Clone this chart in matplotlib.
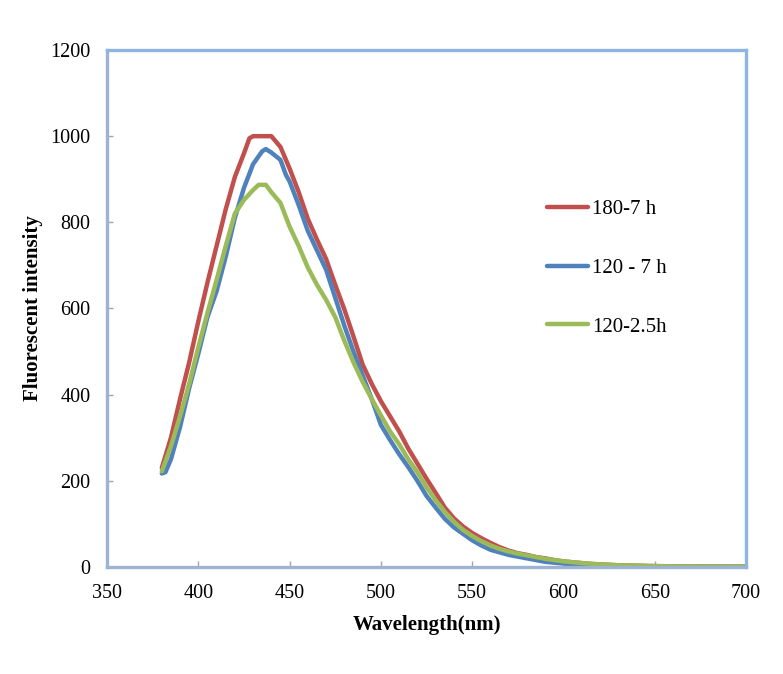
import matplotlib
matplotlib.use('Agg')
import matplotlib.pyplot as plt

# spectra
WL_RED = [380, 385, 390, 395, 400, 405, 410, 415, 420, 425, 428, 430, 435, 440, 445,
          450, 455, 460, 465, 470, 475, 480, 485, 490, 495, 500, 505, 510, 515, 520,
          525, 530, 535, 540, 545, 550, 555, 560, 565, 570, 575, 580, 585, 590, 595,
          600, 605, 610, 615, 620, 630, 640, 650, 660, 670, 680, 690, 700]
INT_RED = [230, 300, 390, 475, 570, 660, 745, 830, 905, 960, 995, 1000, 1000, 1000, 975,
           925, 870, 808, 760, 715, 655, 598, 535, 470, 425, 385, 350, 315, 275, 240,
           205, 172, 138, 113, 94, 79, 67, 56, 46, 38, 32, 28, 23, 20, 16,
           13, 11, 9, 7, 6, 4, 3, 2, 1.5, 1, 1, 0.5, 0.5]

WL_BLUE = [380, 382, 385, 390, 395, 400, 405, 410, 415, 420, 425, 430, 435, 437, 440,
           445, 448, 450, 455, 460, 465, 470, 475, 480, 485, 490, 495, 500, 505, 510,
           515, 520, 525, 530, 535, 540, 545, 550, 555, 560, 565, 570, 575, 580, 585,
           590, 595, 600, 605, 610, 620, 630, 640, 650, 670, 700]
INT_BLUE = [217, 220, 250, 325, 415, 495, 580, 640, 720, 810, 880, 935, 965, 970, 962,
            945, 910, 895, 840, 780, 735, 690, 625, 560, 500, 445, 390, 330, 295, 262,
            232, 200, 165, 138, 112, 92, 77, 62, 50, 40, 34, 28, 24, 20, 16,
            12, 10, 8, 6, 5, 3, 2, 1.5, 1, 0.5, 0.3]

WL_GREEN = [380, 385, 390, 395, 400, 405, 410, 415, 420, 425, 430, 433, 437, 440, 445,
            450, 455, 460, 465, 470, 475, 480, 485, 490, 495, 500, 505, 510, 515, 520,
            525, 530, 535, 540, 545, 550, 555, 560, 565, 570, 575, 580, 585, 590, 595,
            600, 605, 610, 620, 630, 640, 650, 660, 680, 700]
INT_GREEN = [222, 280, 350, 425, 510, 590, 666, 745, 820, 852, 875, 887, 887, 870, 845,
             790, 745, 695, 655, 620, 580, 525, 475, 430, 390, 352, 315, 285, 250, 220,
             185, 155, 128, 105, 86, 72, 60, 50, 42, 36, 31, 27, 23, 19, 16,
             13, 11, 9, 6, 4, 3, 2, 1.5, 1, 0.5]

LABELS = ['180-7 h', '120 - 7 h', '120-2.5h']
COLORS = ['#c0504d', '#4f81bd', '#9bbb59']

plt.rcParams['font.family'] = ['Liberation Serif', 'DejaVu Serif']

fig = plt.figure(figsize=(7.83, 6.74), dpi=100)
ax = fig.add_axes([0.1367, 0.1588, 0.816, 0.767])

series = [(WL_RED, INT_RED), (WL_BLUE, INT_BLUE), (WL_GREEN, INT_GREEN)]
for (x, y), lab, c in zip(series, LABELS, COLORS):
    ax.plot(x, y, color=c, lw=3.2, label=lab, solid_capstyle='round', solid_joinstyle='round')

ax.set_xlim(350, 700)
ax.set_ylim(0, 1200)
ax.set_xticks(range(350, 701, 50))
ax.set_yticks(range(0, 1201, 200))
ax.tick_params(direction='in', length=4, width=1, color='#a6a6a6', labelsize=14.5)
ax.tick_params(axis='x', pad=12)
ax.tick_params(axis='y', pad=12)

for side in ['left', 'bottom']:
    ax.spines[side].set_color('#9db3d3')
    ax.spines[side].set_linewidth(2.4)
for side in ['top', 'right']:
    ax.spines[side].set_color('#8db4e2')
    ax.spines[side].set_linewidth(2.4)

ax.set_xlabel('Wavelength(nm)', fontsize=15, fontweight='bold', labelpad=9)
ax.set_ylabel('Fluorescent intensity', fontsize=15, fontweight='bold', labelpad=5)

ax.legend(loc='center left', bbox_to_anchor=(0.6886, 0.578), frameon=False, fontsize=15,
          handlelength=1.97, handletextpad=0.2, labelspacing=1.88, borderpad=0, borderaxespad=0)

fig.savefig('out.png', dpi=100)
